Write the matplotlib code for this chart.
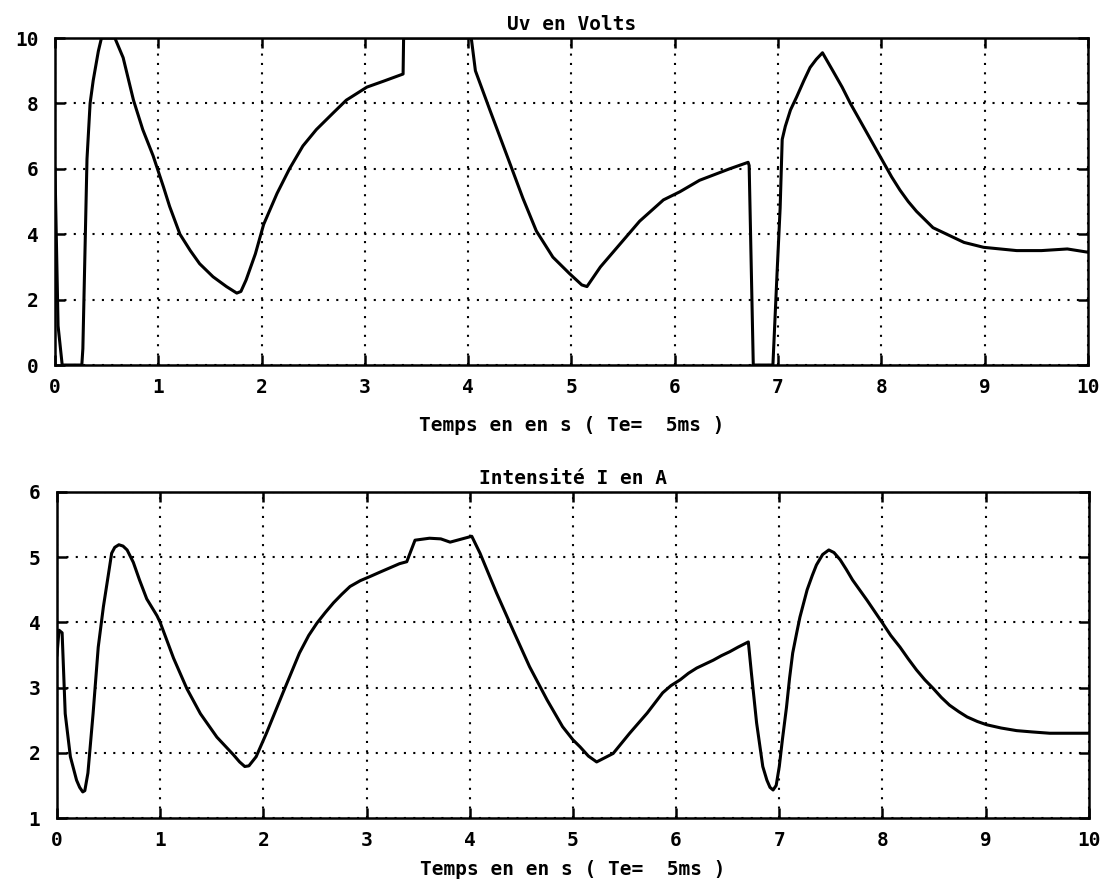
import matplotlib
matplotlib.use("Agg")
import matplotlib.pyplot as plt

# Uv en Volts (clipped 0..10 as on the scope)
t_uv = [0.00, 0.03, 0.07, 0.26, 0.27, 0.29, 0.31, 0.34, 0.37, 0.42, 0.45,
        0.58, 0.66, 0.76, 0.85, 0.95, 1.05, 1.11, 1.21, 1.31, 1.40, 1.53,
        1.66, 1.76, 1.80, 1.85, 1.94, 2.02, 2.15, 2.27, 2.40, 2.53, 2.69,
        2.82, 3.02, 3.18, 3.37, 3.375,
        4.03, 4.07, 4.21, 4.40, 4.53, 4.66, 4.82, 4.98, 5.10, 5.15, 5.28,
        5.47, 5.66, 5.89, 6.05, 6.24, 6.53, 6.71, 6.72, 6.76, 6.95, 6.99,
        7.02, 7.04, 7.07, 7.12, 7.18, 7.25, 7.31, 7.37, 7.43, 7.53, 7.62,
        7.70, 7.86, 7.94, 8.02, 8.10, 8.18, 8.26, 8.34, 8.42, 8.50, 8.60,
        8.70, 8.80, 8.99, 9.15, 9.31, 9.55, 9.80, 10.00]
uv = [6.0, 1.2, 0.0, 0.0, 0.5, 3.4, 6.3, 8.0, 8.7, 9.6, 10.0,
      10.0, 9.4, 8.1, 7.2, 6.4, 5.45, 4.85, 4.0, 3.5, 3.1, 2.7,
      2.4, 2.2, 2.25, 2.6, 3.4, 4.3, 5.25, 6.0, 6.7, 7.2, 7.7,
      8.1, 8.5, 8.68, 8.9, 10.0,
      10.0, 9.0, 7.8, 6.2, 5.1, 4.1, 3.3, 2.8, 2.45, 2.4, 3.0,
      3.7, 4.4, 5.05, 5.3, 5.65, 6.0, 6.2, 6.1, 0.0, 0.0, 2.8,
      4.8, 6.9, 7.3, 7.8, 8.2, 8.7, 9.1, 9.35, 9.55, 9.0, 8.5,
      8.0, 7.1, 6.65, 6.2, 5.75, 5.35, 5.0, 4.7, 4.45, 4.2, 4.05,
      3.9, 3.75, 3.6, 3.55, 3.5, 3.5, 3.55, 3.45]

# Intensite I en A
t_i = [0.00, 0.02, 0.05, 0.08, 0.13, 0.19, 0.22, 0.25, 0.27, 0.30, 0.35,
       0.40, 0.45, 0.50, 0.53, 0.56, 0.60, 0.64, 0.68, 0.74, 0.80, 0.87,
       0.97, 1.00, 1.13, 1.26, 1.39, 1.55, 1.71, 1.77, 1.82, 1.86, 1.93,
       2.03, 2.19, 2.35, 2.44, 2.52, 2.60, 2.68, 2.76, 2.84, 2.94, 3.03,
       3.13, 3.32, 3.39, 3.47, 3.61, 3.72, 3.81, 4.02, 4.10, 4.26, 4.42,
       4.58, 4.75, 4.90, 5.00, 5.07, 5.15, 5.23, 5.39, 5.55, 5.72, 5.87,
       5.95, 6.04, 6.12, 6.20, 6.28, 6.36, 6.44, 6.52, 6.60, 6.70, 6.73,
       6.78, 6.84, 6.88, 6.91, 6.94, 6.97, 7.00, 7.03, 7.07, 7.10, 7.13,
       7.17, 7.20, 7.27, 7.32, 7.36, 7.42, 7.48, 7.53, 7.59, 7.65, 7.71,
       7.85, 8.00, 8.08, 8.17, 8.25, 8.33, 8.41, 8.49, 8.57, 8.65, 8.74,
       8.82, 8.92, 9.01, 9.15, 9.30, 9.45, 9.62, 10.00]
intensite = [3.5, 3.88, 3.84, 2.6, 1.94, 1.58, 1.47, 1.4, 1.42, 1.69, 2.6,
             3.62, 4.24, 4.75, 5.06, 5.15, 5.19, 5.17, 5.11, 4.92, 4.65, 4.36,
             4.1, 4.0, 3.45, 2.98, 2.6, 2.24, 1.97, 1.86, 1.79, 1.80, 1.94,
             2.3, 2.92, 3.53, 3.8, 3.99, 4.15, 4.3, 4.43, 4.55, 4.64, 4.7,
             4.77, 4.9, 4.93, 5.26, 5.29, 5.28, 5.23, 5.32, 5.06, 4.45, 3.88,
             3.32, 2.81, 2.4, 2.2, 2.09, 1.95, 1.86, 1.99, 2.3, 2.61, 2.92,
             3.03, 3.12, 3.22, 3.3, 3.36, 3.42, 3.49, 3.55, 3.62, 3.7, 3.22,
             2.46, 1.79, 1.58, 1.47, 1.43, 1.5, 1.79, 2.2, 2.7, 3.15, 3.53,
             3.85, 4.08, 4.5, 4.72, 4.88, 5.04, 5.11, 5.07, 4.96, 4.81, 4.65,
             4.34, 3.99, 3.8, 3.62, 3.44, 3.27, 3.12, 2.99, 2.85, 2.73, 2.63,
             2.55, 2.48, 2.43, 2.38, 2.34, 2.32, 2.30, 2.30]

x_ticks = list(range(0, 11))
uv_ticks = [0, 2, 4, 6, 8, 10]
i_ticks = [1, 2, 3, 4, 5, 6]
xlabel = "Temps en en s ( Te=  5ms )"

plt.rcParams['font.family'] = ['DejaVu Sans Mono']
plt.rcParams['font.weight'] = 'bold'
plt.rcParams['font.size'] = 14

fig = plt.figure(figsize=(11.06, 8.91), dpi=100)
ax1 = fig.add_axes([0.0497, 0.5903, 0.934, 0.367])
ax2 = fig.add_axes([0.0515, 0.0819, 0.933, 0.366])


def style(ax, yticks, ylim, title, label_y):
    ax.set_xlim(0, 10)
    ax.set_ylim(*ylim)
    ax.set_xticks(x_ticks)
    ax.set_yticks(yticks)
    ax.grid(True, color='black', linestyle=(0, (1, 3.5)), linewidth=1.5)
    ax.tick_params(direction='in', top=True, right=True, length=7,
                   width=1.8, colors='black', labelsize=14)
    ax.tick_params(axis='x', pad=9)
    ax.tick_params(axis='y', pad=12)
    for s in ax.spines.values():
        s.set_linewidth(1.8)
    ax.set_title(title, fontsize=14, fontweight='bold', pad=6)
    ax.set_xlabel(xlabel, fontsize=14, fontweight='bold')
    ax.xaxis.set_label_coords(0.5, label_y)


ax1.plot(t_uv, uv, color='black', linewidth=2.2)
style(ax1, uv_ticks, (0, 10), "Uv en Volts", -0.155)

ax2.plot(t_i, intensite, color='black', linewidth=2.2)
style(ax2, i_ticks, (1, 6), "Intensité I en A", -0.13)

plt.savefig("out.png", dpi=100)
